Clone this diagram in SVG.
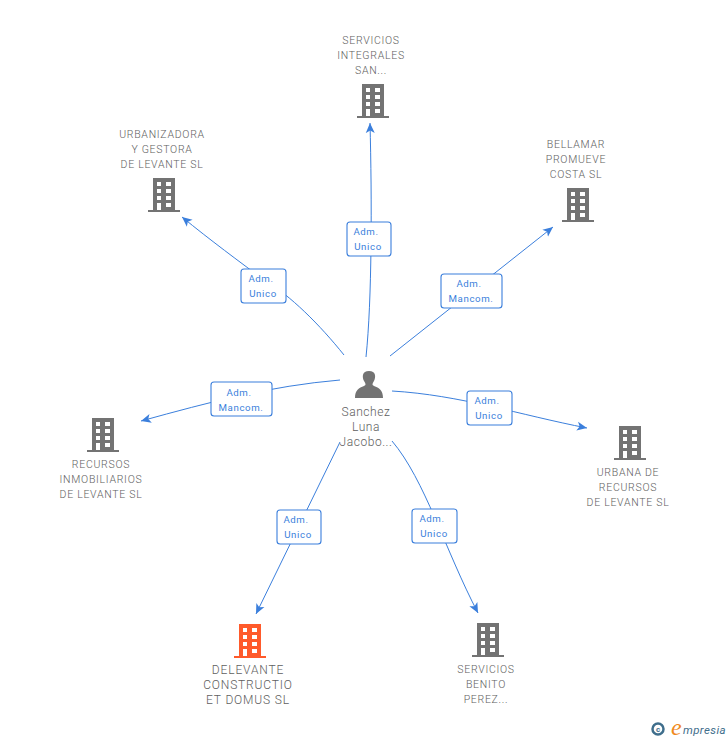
<svg xmlns="http://www.w3.org/2000/svg" width="728" height="740" viewBox="0 0 728 740">
<style>
text{font-family:Roboto,"Liberation Sans",Arial,sans-serif}
.n{font-size:10.500px;fill:#5e5e5e;text-anchor:middle;letter-spacing:.72px;font-weight:300}
.b{font-size:12px;fill:#5e5e5e;text-anchor:middle;letter-spacing:.55px;font-weight:300}
.d{font-size:12px;fill:#5e5e5e;text-anchor:middle;letter-spacing:.85px;font-weight:300}
.l{font-size:9.700px;fill:#3b7fdc;text-anchor:middle;letter-spacing:.6px}
.c{fill:none;stroke:#3b7fdc;stroke-width:1}
.box{fill:#fff;stroke:#3b7fdc;stroke-width:1.100}
.e{font-family:"Liberation Serif",serif;font-style:italic}
</style>
<defs>
<marker id="a" markerUnits="userSpaceOnUse" markerWidth="12" markerHeight="10" refX="10" refY="5" orient="auto"><path d="M0 0.500L10 5L0 9.500L2.500 5Z" fill="#3b7fdc"/></marker>
<g id="bld">
<path fill-rule="evenodd" d="M-11-17H11V15H16V17H-16V15H-11ZM-7-13V-9H-3V-13ZM2-13V-9H7V-13ZM-7-6V-2H-3V-6ZM2-6V-2H7V-6ZM-7 1V5H-3V1ZM2 1V5H7V1ZM-7 8V15H-3V8ZM2 8V12H7V8Z"/>
</g>
</defs>
<g id="connectors">
<path class="c" marker-end="url(#a)" d="M366 357C372 300 372 200 370 123"/>
<path class="c" marker-end="url(#a)" d="M344 355C320 325 290 295 264 280C240 262 210 240 182 217"/>
<path class="c" marker-end="url(#a)" d="M390 356L553 227"/>
<path class="c" marker-end="url(#a)" d="M340 380C270 386 210 402 141 421"/>
<path class="c" marker-end="url(#a)" d="M392 391C460 395 520 415 587 428"/>
<path class="c" marker-end="url(#a)" d="M340 442L256 614"/>
<path class="c" marker-end="url(#a)" d="M392 441C425 480 445 550 478 613"/>
</g>
<g id="label-1"><rect class="box" x="347" y="222" width="44" height="34" rx="3"/><text class="l" x="366" y="235">Adm.</text><text class="l" x="368" y="250">Unico</text></g>
<g id="label-2"><rect class="box" x="241" y="269" width="45" height="34" rx="3"/><text class="l" x="261" y="282">Adm.</text><text class="l" x="263" y="297">Unico</text></g>
<g id="label-3"><rect class="box" x="441" y="274" width="61" height="34" rx="3"/><text class="l" x="469" y="287">Adm.</text><text class="l" x="471" y="302">Mancom.</text></g>
<g id="label-4"><rect class="box" x="211" y="382" width="61" height="34" rx="3"/><text class="l" x="239" y="396">Adm.</text><text class="l" x="241" y="411">Mancom.</text></g>
<g id="label-5"><rect class="box" x="467" y="391" width="45" height="34" rx="3"/><text class="l" x="487" y="404">Adm.</text><text class="l" x="489" y="419">Unico</text></g>
<g id="label-6"><rect class="box" x="277" y="510" width="44" height="34" rx="3"/><text class="l" x="296" y="523">Adm.</text><text class="l" x="298" y="538">Unico</text></g>
<g id="label-7"><rect class="box" x="412" y="509" width="45" height="34" rx="3"/><text class="l" x="432" y="522">Adm.</text><text class="l" x="434" y="537">Unico</text></g>

<g id="node-servicios-integrales"><use href="#bld" x="373" y="101" fill="#737373"/><text class="n" x="371" y="44">SERVICIOS</text><text class="n" x="371" y="59">INTEGRALES</text><text class="n" x="371" y="74">SAN...</text></g>
<g id="node-urbanizadora"><use href="#bld" x="164" y="195" fill="#737373"/><text class="n" x="162" y="138">URBANIZADORA</text><text class="n" x="162" y="153">Y GESTORA</text><text class="n" x="162" y="168">DE LEVANTE SL</text></g>
<g id="node-bellamar"><use href="#bld" x="578" y="205" fill="#737373"/><text class="n" x="576" y="148">BELLAMAR</text><text class="n" x="576" y="163">PROMUEVE</text><text class="n" x="576" y="178">COSTA SL</text></g>
<g id="node-recursos"><use href="#bld" x="103" y="435" fill="#737373"/><text class="n" x="101" y="468">RECURSOS</text><text class="n" x="101" y="483">INMOBILIARIOS</text><text class="n" x="101" y="498">DE LEVANTE SL</text></g>
<g id="node-urbana"><use href="#bld" x="630" y="443" fill="#737373"/><text class="n" x="628" y="476">URBANA DE</text><text class="n" x="628" y="491">RECURSOS</text><text class="n" x="628" y="506">DE LEVANTE SL</text></g>
<g id="node-delevante"><use href="#bld" x="250" y="641" fill="#ff5a2b"/><text class="d" x="248" y="674">DELEVANTE</text><text class="d" x="248" y="689">CONSTRUCTIO</text><text class="d" x="248" y="704">ET DOMUS SL</text></g>
<g id="node-benito"><use href="#bld" x="488" y="640" fill="#737373"/><text class="n" x="486" y="673">SERVICIOS</text><text class="n" x="486" y="688">BENITO</text><text class="n" x="486" y="703">PEREZ...</text></g>
<g id="node-person"><path fill="#737373" d="M355 398C355 390 359 388 364 386C366 385 366 384 364 381C362 377 362 371 369 371C376 371 376 377 374 381C372 384 372 385 374 386C379 388 383 390 383 398Z"/><text class="b" x="366" y="416">Sanchez</text><text class="b" x="366" y="431">Luna</text><text class="b" x="366" y="446">Jacobo...</text></g>
<g id="logo"><circle cx="658" cy="729" r="5.500" fill="none" stroke="#3f6e8c" stroke-width="2.500"/><text x="658" y="732" font-size="8" font-weight="bold" fill="#3f6e8c" text-anchor="middle">c</text><text class="e" x="671" y="735" font-size="24" fill="#f08a1d">e</text><text x="683" y="734" font-size="11.500" font-style="italic" letter-spacing=".4" fill="#3f6e8c">mpresia</text></g>
</svg>
